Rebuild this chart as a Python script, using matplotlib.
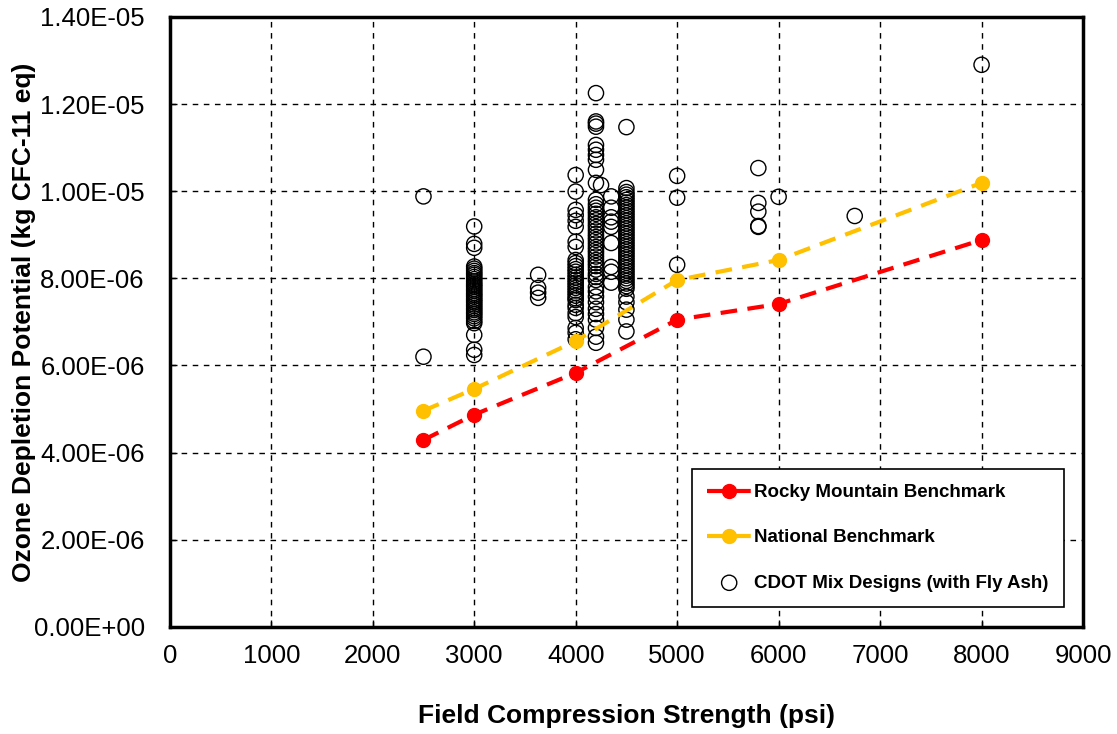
import matplotlib
matplotlib.use('Agg')
import matplotlib.pyplot as plt
from matplotlib.ticker import FuncFormatter, MultipleLocator

plt.rcParams['font.family'] = ['Liberation Sans', 'DejaVu Sans']

# benchmarks (psi, kg CFC-11 eq)
bench_strength = [2500, 3000, 4000, 5000, 6000, 8000]
rocky_mountain = [4.29e-6, 4.87e-6, 5.83e-6, 7.05e-6, 7.41e-6, 8.88e-6]
national = [4.96e-6, 5.46e-6, 6.56e-6, 7.96e-6, 8.42e-6, 1.019e-5]

# CDOT mix designs, values in 1e-6 kg CFC-11 eq, grouped by strength
cdot_strength = [2500, 3000, 3630, 4000, 4200, 4250, 4350, 4500, 5000, 5800, 6000, 6750, 8000]
cdot_odp = [
    [9.88, 6.20],
    [9.19, 8.79, 8.70, 8.27, 8.22, 8.17, 8.12, 8.08, 8.03, 7.98, 7.93, 7.88, 7.84, 7.80,
     7.75, 7.71, 7.66, 7.62, 7.58, 7.53, 7.49, 7.45, 7.40, 7.36, 7.31, 7.27, 7.22, 7.18,
     7.13, 7.08, 7.02, 6.97, 6.70, 6.36, 6.24],
    [8.08, 7.78, 7.67, 7.55],
    [10.37, 9.99, 9.57, 9.45, 9.32, 9.18, 8.84, 8.72, 8.42, 8.35, 8.28, 8.21, 8.15, 8.08,
     8.02, 7.96, 7.90, 7.84, 7.78, 7.72, 7.66, 7.60, 7.54, 7.50, 7.39, 7.32, 7.20, 7.11,
     6.86, 6.75, 6.60],
    [12.25, 11.60, 11.55, 11.48, 11.06, 10.95, 10.83, 10.72, 10.49, 10.19, 9.80, 9.70,
     9.62, 9.55, 9.48, 9.40, 9.33, 9.25, 9.18, 9.10, 9.02, 8.95, 8.88, 8.80, 8.72, 8.65,
     8.58, 8.50, 8.42, 8.35, 8.28, 8.20, 8.10, 8.03, 7.96, 7.80, 7.70, 7.58, 7.45, 7.30,
     7.18, 7.05, 6.86, 6.66, 6.52],
    [10.14],
    [9.88, 9.62, 9.40, 9.30, 9.18, 8.81, 8.26, 8.15, 7.90],
    [11.47, 10.07, 9.98, 9.92, 9.86, 9.80, 9.74, 9.68, 9.62, 9.56, 9.50, 9.44, 9.38, 9.32,
     9.26, 9.20, 9.14, 9.08, 9.02, 8.96, 8.90, 8.84, 8.78, 8.72, 8.66, 8.60, 8.54, 8.48,
     8.42, 8.36, 8.30, 8.24, 8.18, 8.12, 8.06, 8.00, 7.94, 7.88, 7.82, 7.76, 7.58, 7.45,
     7.28, 7.05, 6.78],
    [10.35, 9.85, 8.31],
    [10.53, 9.73, 9.53, 9.20, 9.18],
    [9.87],
    [9.43],
    [12.90],
]

xs, ys = [], []
for s, vals in zip(cdot_strength, cdot_odp):
    for v in vals:
        xs.append(s)
        ys.append(v * 1e-6)

fig = plt.figure(figsize=(11.17, 7.34), dpi=100)
ax = fig.add_axes([0.152, 0.146, 0.8176, 0.831])

ax.scatter(xs, ys, s=120, facecolors='none', edgecolors='black', linewidths=1.0,
           zorder=3, label='CDOT Mix Designs (with Fly Ash)')
ax.plot(bench_strength, rocky_mountain, color='#FF0000', linestyle='--', linewidth=3,
        marker='o', markersize=10, dashes=(4, 2.5), zorder=4, label='Rocky Mountain Benchmark')
ax.plot(bench_strength, national, color='#FFC000', linestyle='--', linewidth=3,
        marker='o', markersize=10, dashes=(4, 2.5), zorder=4, label='National Benchmark')

ax.set_xlim(0, 9000)
ax.set_ylim(0, 1.4e-5)
ax.xaxis.set_major_locator(MultipleLocator(1000))
ax.yaxis.set_major_locator(MultipleLocator(2e-6))
ax.yaxis.set_major_formatter(FuncFormatter(lambda v, p: '{:.2E}'.format(v)))
ax.tick_params(direction='in', labelsize=18.5, length=5, width=1)
ax.tick_params(axis='x', pad=12)
ax.tick_params(axis='y', pad=18)

ax.grid(True, color='black', linestyle=(0, (4, 4)), linewidth=1)
ax.set_axisbelow(True)
for sp in ax.spines.values():
    sp.set_linewidth(2.5)

ax.set_xlabel('Field Compression Strength (psi)', fontsize=19, fontweight='bold', labelpad=26)
ax.set_ylabel('Ozone Depletion Potential (kg CFC-11 eq)', fontsize=19, fontweight='bold')
ax.yaxis.set_label_coords(-0.146, 0.5)

handles, labels = ax.get_legend_handles_labels()
order = [1, 2, 0]
leg = ax.legend([handles[i] for i in order], [labels[i] for i in order],
                loc='lower right', bbox_to_anchor=(0.979, 0.033),
                prop={'weight': 'bold', 'size': 13.5}, frameon=True, fancybox=False,
                edgecolor='black', labelspacing=1.5, borderpad=0.8, handlelength=2.4,
                handletextpad=0.15, borderaxespad=0)
leg.get_frame().set_linewidth(1.2)
leg.get_frame().set_alpha(1)

fig.savefig('out.png', dpi=100)
